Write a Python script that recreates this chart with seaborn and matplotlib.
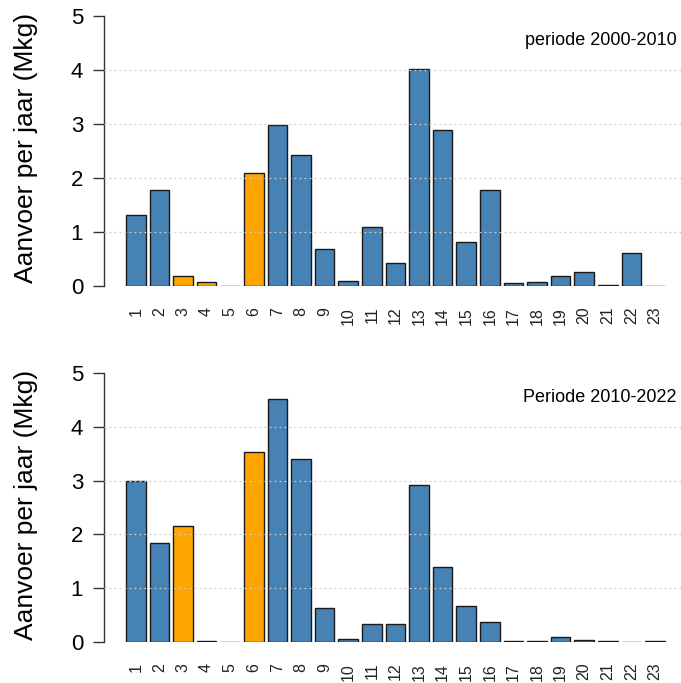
import matplotlib
matplotlib.use("Agg")
import matplotlib.pyplot as plt
import seaborn as sns
import pandas as pd

sns.set_style("white")
plt.rcParams["font.family"] = ["Liberation Sans", "DejaVu Sans"]
plt.rcParams["text.color"] = "black"
plt.rcParams["axes.labelcolor"] = "black"
plt.rcParams["xtick.color"] = "black"
plt.rcParams["ytick.color"] = "black"

# Stations 1..23 and yearly supply (Mkg) for both periods
stations = [str(i) for i in range(1, 24)]
supply_2000_2010 = [1.31, 1.78, 0.18, 0.07, 0.005, 2.09, 2.98, 2.43, 0.69, 0.09,
                    1.10, 0.43, 4.02, 2.88, 0.81, 1.78, 0.05, 0.07, 0.18, 0.25,
                    0.02, 0.62, 0.005]
supply_2010_2022 = [3.00, 1.84, 2.16, 0.02, 0.005, 3.53, 4.52, 3.40, 0.63, 0.06,
                    0.33, 0.33, 2.91, 1.39, 0.67, 0.37, 0.02, 0.02, 0.10, 0.04,
                    0.02, 0.005, 0.02]
highlighted = ["3", "4", "6"]
period_labels = ["periode 2000-2010", "Periode 2010-2022"]
y_label = "Aanvoer per jaar (Mkg)"
y_ticks = [0, 1, 2, 3, 4, 5]

palette = {"base": "#4682B4", "highlight": "#FFA500"}

W, H = 681, 683
fig = plt.figure(figsize=(W / 100, H / 100), dpi=100)

# axes rectangles in pixels: (left, y of value 0, y of value 5)
panels = [(104, 286, 16), (104, 642, 373)]
xlim = (-1.347, 23.1)

for (left, y0, y5), values, label in zip(panels, [supply_2000_2010, supply_2010_2022], period_labels):
    ax = fig.add_axes([left / W, (H - y0) / H, (W - left) / W, (y0 - y5) / H])
    df = pd.DataFrame({
        "station": stations,
        "supply": values,
        "group": ["highlight" if s in highlighted else "base" for s in stations],
    })
    sns.barplot(data=df, x="station", y="supply", hue="group", order=stations,
                palette=palette, saturation=1, dodge=False, width=0.833,
                edgecolor="#1a1a1a", linewidth=1.0, legend=False, ax=ax, zorder=2)
    ax.set_xlim(*xlim)
    ax.set_ylim(0, 5)
    for v in y_ticks[1:-1]:
        ax.axhline(v, color="#cccccc", linestyle=(0, (1.5, 2.5)), linewidth=0.9, zorder=3)
    for side in ["top", "right", "bottom"]:
        ax.spines[side].set_visible(False)
    ax.spines["left"].set_bounds(0, 5)
    ax.spines["left"].set_color("#333333")
    ax.spines["left"].set_linewidth(1.0)
    ax.set_yticks(y_ticks)
    ax.set_yticklabels([str(t) for t in y_ticks], fontsize=16)
    ax.tick_params(axis="y", length=8, width=1.0, color="#333333", pad=7, left=True)
    ax.tick_params(axis="x", length=0, pad=15, labelsize=11.5, rotation=90, labelcolor="#222222")
    ax.set_xlabel("")
    ax.set_ylabel(y_label, fontsize=19, va="center")
    ax.yaxis.set_label_coords(-0.135, 0.51)
    ax.text(0.993, 4.55, label, transform=ax.get_yaxis_transform(), ha="right",
            va="center", fontsize=13, color="black")
    ax.patch.set_alpha(0)

fig.savefig("out.png", dpi=100)
